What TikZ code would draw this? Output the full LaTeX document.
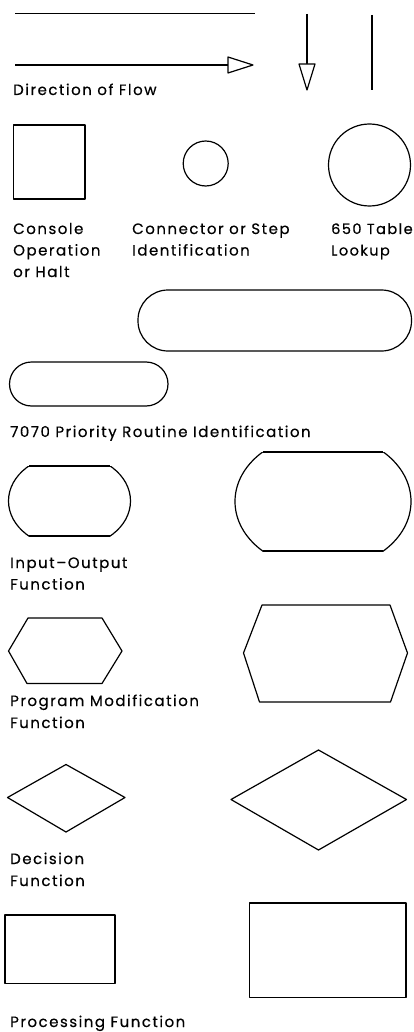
\documentclass[tikz,border=0pt]{standalone}
\usepackage{fontspec}
\setmainfont{Poppins}[LetterSpace=10,FakeBold=0.4]
\begin{document}
\begin{tikzpicture}[x=1pt,y=-1pt,
  shapeline/.style={draw=black,line width=1.2pt,line join=round},
  lbl/.style={anchor=base west,inner sep=0pt,font=\fontsize{15}{17}\selectfont}]
\useasboundingbox[fill=white] (0,0) rectangle (413,1032);
% direction of flow
\coordinate (l1a) at (15,13.5); \coordinate (l1b) at (255,13.5);
\draw[shapeline] (l1a) -- (l1b);
\coordinate (a1a) at (15,65); \coordinate (a1b) at (228,65);
\draw[shapeline] (a1a) -- (a1b);
\draw[shapeline,fill=white] (228,57) -- (253,65) -- (228,73) -- cycle;
\coordinate (a2a) at (307,14); \coordinate (a2b) at (307,64);
\draw[shapeline] (a2a) -- (a2b);
\draw[shapeline,fill=white] (299,64) -- (307,90) -- (315,64) -- cycle;
\coordinate (v1a) at (372,15); \coordinate (v1b) at (372,90.5);
\draw[shapeline] (v1a) -- (v1b);
\node[lbl] (t1) at (13,95) {Direction of Flow};
% console / connector / table lookup
\draw[shapeline] (13.5,125) rectangle (85,199);
\draw[shapeline] (205.7,163.5) circle [radius=22.5];
\draw[shapeline] (369.5,165) circle [radius=41];
\node[lbl] (t2a) at (13,234) {Console};
\node[lbl] (t2b) at (13,255.5) {Operation};
\node[lbl] (t2c) at (13,277) {or Halt};
\node[lbl] (t3a) at (132,234) {Connector or Step};
\node[lbl] (t3b) at (132,255.5) {Identification};
\node[lbl,font=\fontsize{14.5}{17}\selectfont] (t4a) at (331,234) {650 Table};
\node[lbl,font=\fontsize{14.5}{17}\selectfont] (t4b) at (331,255.5) {Lookup};
% priority routine
\draw[shapeline,rounded corners=30pt] (138,290) rectangle (411.5,351);
\draw[shapeline,rounded corners=22pt] (9.5,362) rectangle (168,406);
\node[lbl] (t5) at (10,437) {7070 Priority Routine Identification};
% input-output
\begin{scope}
  \clip (0,466) rectangle (413,536);
  \draw[shapeline] (69.5,501) ellipse [x radius=61, y radius=47];
\end{scope}
\draw[shapeline] (28.8,466) -- (110.2,466);
\draw[shapeline] (28.8,536) -- (110.2,536);
\begin{scope}
  \clip (0,452) rectangle (413,551);
  \draw[shapeline] (323,501.5) ellipse [x radius=88, y radius=68];
\end{scope}
\draw[shapeline] (262.7,452) -- (383.3,452);
\draw[shapeline] (262.7,551) -- (383.3,551);
\node[lbl] (t6a) at (10,568) {Input–Output};
\node[lbl] (t6b) at (10,589.5) {Function};
% program modification
\draw[shapeline] (28,618) -- (102,618) -- (122,651) -- (102,683.5) -- (27,683.5) -- (8.5,651) -- cycle;
\draw[shapeline] (262,605) -- (390,605) -- (407.5,653) -- (390.5,702) -- (259.5,702) -- (243.5,653) -- cycle;
\node[lbl] (t7a) at (10,706) {Program Modification};
\node[lbl] (t7b) at (10,728) {Function};
% decision
\draw[shapeline] (66,764.5) -- (125,797.5) -- (66,832) -- (7.5,797.5) -- cycle;
\draw[shapeline] (318.5,750) -- (406.5,799.5) -- (318.5,850) -- (231,799.5) -- cycle;
\node[lbl] (t8a) at (10,864) {Decision};
\node[lbl] (t8b) at (10,886) {Function};
% processing
\draw[shapeline] (5,915) rectangle (115,983.5);
\draw[shapeline] (249.5,903) rectangle (406,997.5);
\node[lbl] (t9) at (10,1027) {Processing Function};
\end{tikzpicture}
\end{document}
